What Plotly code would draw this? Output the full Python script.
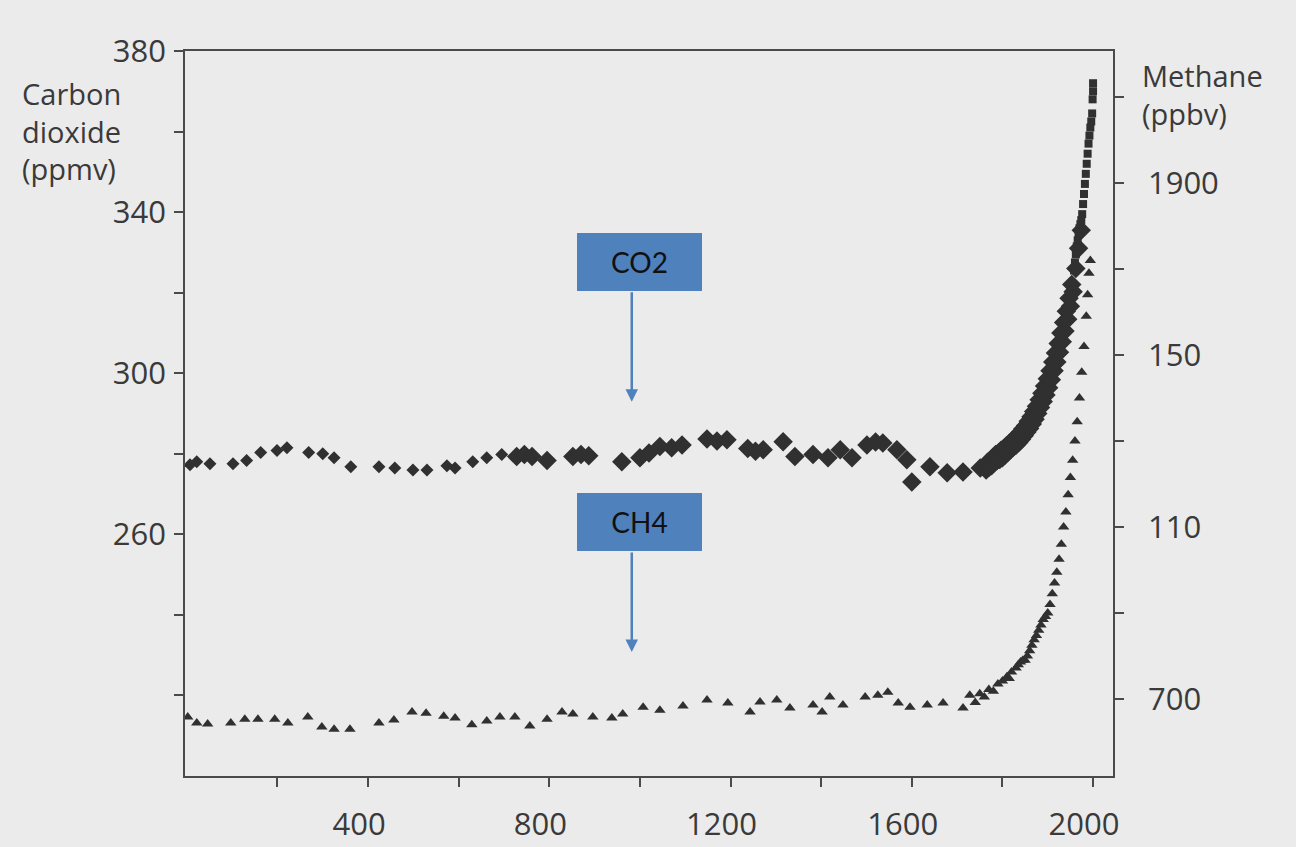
import plotly.graph_objects as go

# ---------------- data ----------------
# CO2, early ice-core record (small diamonds)
co2_a_year = [7, 22, 51, 102, 132, 163, 199, 221, 269, 300, 325, 362, 424, 459, 499, 530, 574, 592, 631, 662, 695]
co2_a_ppm = [277.3, 278.0, 277.5, 277.5, 278.3, 280.3, 280.8, 281.5, 280.3, 280.0, 279.0, 276.8, 276.8, 276.5, 276.0, 276.0, 277.0, 276.5, 278.0, 279.0, 279.8]

# CO2, second record (large diamonds)
co2_b_year = [728, 745, 762, 795, 852, 870, 887, 960, 1000, 1020, 1044, 1070, 1093, 1148, 1170, 1192, 1238, 1255, 1272, 1316, 1342,
              1382, 1415, 1442, 1468, 1501, 1520, 1536, 1567, 1589, 1600, 1640, 1678, 1713, 1751]
co2_b_ppm = [279.3, 279.8, 279.3, 278.3, 279.3, 279.8, 279.5, 278.0, 279.0, 280.2, 281.8, 281.5, 282.2, 283.7, 283.2, 283.5, 281.3, 280.6, 281.0, 283.0, 279.3,
             279.8, 279.0, 281.0, 279.0, 282.2, 282.9, 282.7, 281.0, 278.5, 273.0, 276.8, 275.3, 275.5, 276.5]

# CO2, recent ice-core record (thick band)
co2_m_year = [1764, 1767, 1770, 1773, 1776, 1779, 1782, 1785, 1788, 1791, 1794, 1797, 1800, 1803, 1806, 1809, 1812, 1815,
              1818, 1821, 1824, 1827, 1830, 1833, 1836, 1839, 1842, 1845, 1848, 1851, 1854, 1857, 1860, 1863, 1866, 1869,
              1872, 1875, 1878, 1881, 1884, 1887, 1890, 1893, 1896, 1899, 1902, 1905, 1908, 1911, 1914, 1917, 1920, 1923,
              1926, 1929, 1932, 1935, 1938, 1941, 1944, 1947, 1950, 1953, 1956, 1962, 1968, 1974]
co2_m_ppm = [276.0, 277.9, 276.6, 278.3, 277.0, 279.1, 277.8, 279.8, 278.3, 280.2, 278.6, 280.9, 279.0, 281.3, 279.7, 282.0, 280.4, 282.6,
             281.0, 283.2, 281.6, 283.8, 282.1, 284.6, 282.8, 285.3, 283.6, 286.2, 284.5, 287.0, 285.4, 288.1, 286.3, 289.2, 287.4, 290.5,
             288.6, 291.8, 290.0, 293.4, 291.5, 295.0, 293.0, 296.8, 294.6, 298.6, 296.4, 300.6, 298.4, 302.8, 300.6, 305.0, 302.8, 307.4,
             305.2, 310.0, 307.8, 312.6, 310.5, 315.4, 313.4, 318.6, 316.6, 322.0, 320.2, 326.0, 331.0, 335.5]

# CO2, direct measurements (thin steep line)
co2_r_year = [1958, 1960, 1962, 1964, 1966, 1968, 1970, 1972, 1974, 1976, 1978, 1980, 1982, 1984, 1986, 1988, 1990, 1992,
              1994, 1996, 1998, 1999, 2000, 2000]
co2_r_ppm = [325.5, 327.5, 329.5, 331.5, 333.0, 334.5, 336.0, 337.0, 338.0, 339.5, 342.0, 344.5, 347.0, 349.5, 352.0, 354.5, 357.0, 359.0,
             361.0, 362.5, 364.5, 368.0, 370.0, 372.0]

# Methane record (triangles)
ch4_year = [2, 22, 46, 97, 128, 157, 194, 223, 267, 298, 325, 360, 424, 457, 497, 528, 567, 592, 629, 662, 691, 724, 757,
            795, 828, 852, 896, 938, 962, 1007, 1044, 1095, 1148, 1194, 1243, 1265, 1302, 1331, 1382, 1402, 1419, 1448,
            1497, 1525, 1547, 1570, 1596, 1634, 1669, 1713, 1728, 1740, 1750, 1760, 1770, 1780, 1790, 1800, 1810, 1815,
            1820, 1830, 1835, 1840, 1845, 1850, 1855, 1860, 1865, 1870, 1875, 1880, 1885, 1890, 1895, 1900, 1905, 1910,
            1915, 1920, 1925, 1930, 1935, 1940, 1945, 1950, 1955, 1960, 1965, 1970, 1975, 1980, 1985, 1988, 1991, 1994]
ch4_ppb = [658, 644, 642, 644, 653, 653, 653, 644, 658, 635, 630, 630, 644, 651, 670, 667, 660, 656, 640, 649, 658, 658, 637,
           653, 670, 665, 658, 656, 665, 681, 674, 684, 698, 691, 670, 693, 698, 679, 686, 670, 705, 686,
           705, 709, 716, 691, 681, 686, 691, 679, 709, 692, 712, 705, 722, 718, 735, 742, 752, 748,
           763, 772, 780, 786, 790, 790, 800, 812, 825, 838, 848, 860, 872, 885, 892, 900, 920, 945,
           970, 995, 1025, 1060, 1100, 1135, 1175, 1215, 1255, 1300, 1345, 1400, 1460, 1520, 1590, 1640, 1690, 1720]

# axes and labels
x_tickvals = [200, 400, 600, 800, 1000, 1200, 1400, 1600, 1800, 2000]
x_ticktext = ["", "400", "", "800", "", "1200", "", "1600", "", "2000"]
co2_tickvals = [220, 240, 260, 280, 300, 320, 340, 360, 380]
co2_ticktext = ["", "", "260", "", "300", "", "340", "", "380"]
ch4_tickvals = [700, 900, 1100, 1300, 1500, 1700, 1900, 2100]
ch4_ticktext = ["700", "", "110", "", "150", "", "1900", ""]

# ---------------- styling ----------------
BG = "#ebebeb"
INK = "#3a3a3a"
MARK = "#303030"
BLUE = "#4f81bd"
FONT = "Open Sans"
FS = 31

L, R, T, B = 185, 183, 51, 71
W, H = 1296, 847
PW, PH = W - L - R, H - T - B

fig = go.Figure()
fig.add_trace(go.Scatter(x=co2_a_year, y=co2_a_ppm, mode="markers",
                         marker=dict(symbol="diamond", size=10, color=MARK, line=dict(width=0)),
                         showlegend=False, hoverinfo="skip"))
fig.add_trace(go.Scatter(x=co2_b_year, y=co2_b_ppm, mode="markers",
                         marker=dict(symbol="diamond", size=15, color=MARK, line=dict(width=0)),
                         showlegend=False, hoverinfo="skip"))
fig.add_trace(go.Scatter(x=co2_m_year, y=co2_m_ppm, mode="markers",
                         marker=dict(symbol="diamond", size=15, color=MARK, line=dict(width=0)),
                         showlegend=False, hoverinfo="skip"))
fig.add_trace(go.Scatter(x=co2_r_year, y=co2_r_ppm, mode="markers",
                         marker=dict(symbol="square", size=8, color=MARK, line=dict(width=0)),
                         showlegend=False, hoverinfo="skip"))
fig.add_trace(go.Scatter(x=ch4_year, y=ch4_ppb, mode="markers", yaxis="y2",
                         marker=dict(symbol="triangle-up", size=10, color=MARK, line=dict(width=0)),
                         showlegend=False, hoverinfo="skip"))

axis_common = dict(showline=True, linecolor="#4a4a4a", linewidth=1.5, ticks="outside", ticklen=9,
                   tickwidth=1.5, tickcolor="#4a4a4a", showgrid=False, zeroline=False,
                   tickfont=dict(family=FONT, size=FS, color=INK), tickmode="array")

fig.update_layout(
    width=W, height=H,
    margin=dict(l=L, r=R, t=T, b=B, autoexpand=False),
    paper_bgcolor=BG, plot_bgcolor=BG,
    xaxis=dict(range=[-4, 2044], tickvals=x_tickvals, ticktext=x_ticktext, mirror=True,
               ticklabelstandoff=11, ticklabelshift=-9, **axis_common),
    yaxis=dict(range=[200, 380], tickvals=co2_tickvals, ticktext=co2_ticktext,
               ticklabelstandoff=2, **axis_common),
    yaxis2=dict(range=[521, 2207], tickvals=ch4_tickvals, ticktext=ch4_ticktext, overlaying="y",
                side="right", ticklabelstandoff=18, **axis_common),
)

def px_x(px):
    return (px - L) / PW

def px_y(py):
    return (H - B - py) / PH

annos = [
    dict(text="Carbon<br>dioxide<br>(ppmv)", xref="paper", yref="paper", x=px_x(20), y=px_y(72),
         xanchor="left", yanchor="top", align="left", showarrow=False,
         font=dict(family=FONT, size=29, color=INK)),
    dict(text="Methane<br>(ppbv)", xref="paper", yref="paper", x=px_x(1140), y=px_y(54),
         xanchor="left", yanchor="top", align="left", showarrow=False,
         font=dict(family=FONT, size=29, color=INK)),
]

# label boxes with arrows
for txt, box_y, head_y, tail_len in [("CO2", 327.7, 292.9, 111), ("CH4", 263.1, 230.8, 101)]:
    annos.append(dict(text=txt, xref="x", yref="y", x=1000, y=box_y, showarrow=False,
                      width=125, height=58, bgcolor=BLUE, borderpad=0, borderwidth=0,
                      font=dict(family="Lato", size=28, color="#111111")))
    annos.append(dict(text="", xref="x", yref="y", x=982, y=head_y, ax=0, ay=-tail_len,
                      showarrow=True, arrowhead=2, arrowsize=1, arrowwidth=2.5, arrowcolor=BLUE,
                      standoff=0, startstandoff=0))

fig.update_layout(annotations=annos)
fig.write_html("out.html", config={"displayModeBar": False},
               post_script="document.body.style.margin='0';document.body.style.background='" + BG + "';")
